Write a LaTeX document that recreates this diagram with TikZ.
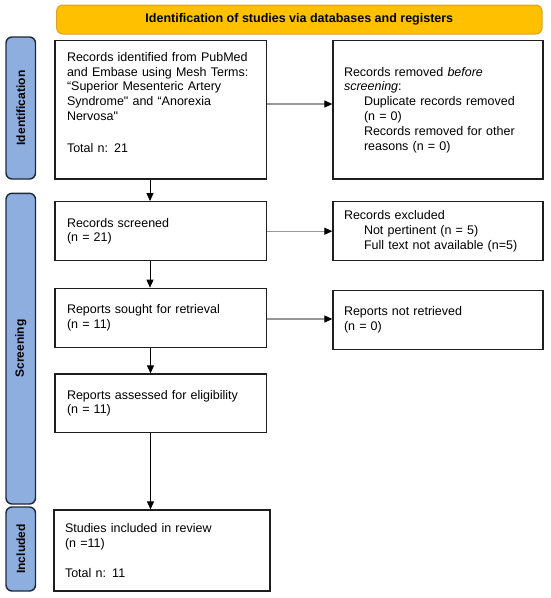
\documentclass[tikz,border=0pt]{standalone}
\usepackage{fontspec}
\setmainfont{Liberation Sans}
\newfontfamily\qfont{Liberation Sans}
\newcommand{\sq}{{\qfont"}}
\usetikzlibrary{arrows.meta}
\definecolor{sidefill}{RGB}{142,174,224}
\definecolor{sidedraw}{RGB}{30,40,60}
\definecolor{barfill}{RGB}{255,192,0}
\definecolor{bardraw}{RGB}{222,160,40}
\definecolor{boxdraw}{RGB}{30,30,30}
\definecolor{arrowgray}{RGB}{150,150,150}
\tikzset{
  box/.style={draw=boxdraw, line width=1.3pt, fill=white, inner xsep=12pt, inner ysep=0pt,
    align=left, font=\fontsize{12.5}{14.8}\selectfont},
  side/.style={draw=sidedraw, fill=sidefill, line width=1.4pt, rounded corners=6pt, rotate=90,
    inner sep=0pt, font=\bfseries\fontsize{12}{14}\selectfont},
  bar/.style={draw=bardraw, fill=barfill, line width=1pt, rounded corners=6pt, inner sep=0pt,
    font=\bfseries\fontsize{12.5}{15}\selectfont},
  harrow/.style={draw=arrowgray, line width=1.2pt, -{Triangle[length=8pt,width=7pt,color=black]}},
  varrow/.style={draw=black, line width=0.8pt, -{Triangle[length=8pt,width=7pt]}}
}
\begin{document}
\begin{tikzpicture}[x=1pt,y=-1pt]
\useasboundingbox (0,0) rectangle (550,598);
% header bar
\node[bar, minimum width=485.3pt, minimum height=29pt] (hdr) at (299.35,19.5)
  {Identification of studies via databases and registers};
% side bars
\node[side, minimum width=142pt, minimum height=29.5pt] (sid) at (20.75,108) {Identification};
\node[side, minimum width=310.7pt, minimum height=29.5pt] (ssc) at (20.75,348.65) {Screening};
\node[side, minimum width=84pt, minimum height=29.5pt] (sin) at (20.75,549) {Included};
% left column
\node[box, minimum width=211.7pt, text width=187.7pt, minimum height=138.3pt] (b1) at (160.85,109.85)
  {Records identified from PubMed\\
   and Embase using Mesh Terms:\\
   “Superior Mesenteric Artery\\
   Syndrome\sq{} and “Anorexia\\
   Nervosa\sq\\[16.9pt]
   Total n: 21\\[0.6pt]\mbox{}};
\node[box, minimum width=211.7pt, text width=187.7pt, minimum height=59pt] (b2) at (160.85,231.2)
  {Records screened\\(n = 21)};
\node[box, minimum width=211.7pt, text width=187.7pt, minimum height=59pt] (b3) at (160.85,317.8)
  {Reports sought for retrieval\\(n = 11)};
\node[box, minimum width=211.7pt, text width=187.7pt, minimum height=58.7pt] (b4) at (160.85,403.35)
  {Reports assessed for eligibility\\(n = 11)};
\node[box, minimum width=216pt, text width=194pt, inner xsep=11pt, minimum height=81pt] (b5) at (162,550.5)
  {Studies included in review\\(n =11)\\[14.5pt]Total n: 11};
% right column
\node[box, minimum width=210pt, text width=188pt, inner xsep=11pt, minimum height=138.3pt] (r1) at (438,109.85)
  {Records removed \textit{before}\\
   \textit{screening}:\\
   \hspace*{20pt}Duplicate records removed\\
   \hspace*{20pt}(n = 0)\\
   \hspace*{20pt}Records removed for other\\
   \hspace*{20pt}reasons (n = 0)};
\node[box, minimum width=210pt, text width=188pt, inner xsep=11pt, minimum height=59pt] (r2) at (438,231.2)
  {Records excluded\\
   \hspace*{20pt}Not pertinent (n = 5)\\
   \hspace*{20pt}Full text not available (n=5)};
\node[box, minimum width=210pt, text width=188pt, inner xsep=11pt, minimum height=58.6pt] (r3) at (438,320)
  {Reports not retrieved\\(n = 0)};
% horizontal arrows
\draw[harrow] ([yshift=5.85pt]b1.east) -- ([yshift=5.85pt]b1.east -| r1.west);
\draw[harrow] (b2.east) -- (b2.east -| r2.west);
\draw[harrow] ([yshift=-1.2pt]b3.east) -- ([yshift=-1.2pt]b3.east -| r3.west);
% vertical arrows
\draw[varrow] ([xshift=-10.85pt]b1.south) -- ([xshift=-10.85pt]b1.south |- b2.north);
\draw[varrow] ([xshift=-10.85pt]b2.south) -- ([xshift=-10.85pt]b2.south |- b3.north);
\draw[varrow] ([xshift=-10.35pt]b3.south) -- ([xshift=-10.35pt]b3.south |- b4.north);
\draw[varrow] ([xshift=-10.35pt]b4.south) -- ([xshift=-10.35pt]b4.south |- b5.north);
\end{tikzpicture}
\end{document}
